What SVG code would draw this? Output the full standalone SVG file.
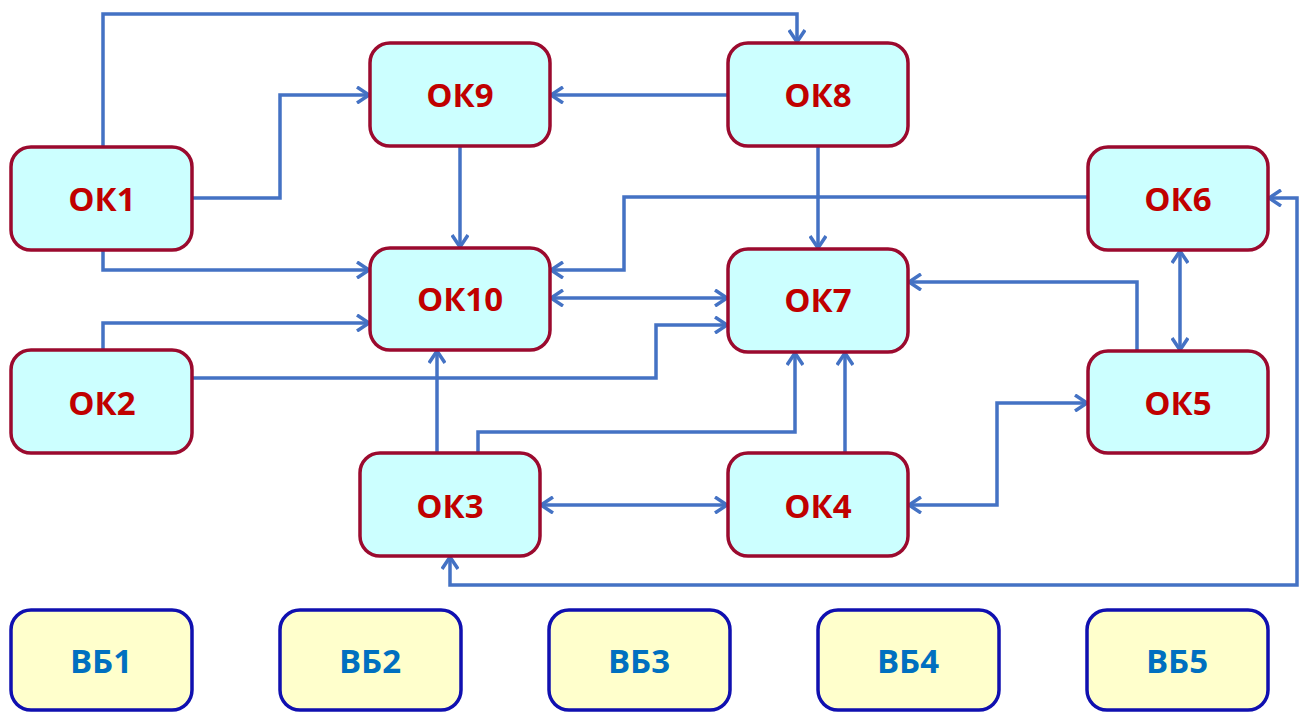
<svg xmlns="http://www.w3.org/2000/svg" width="1304" height="713" viewBox="0 0 1304 713">
<style>
.ok rect{fill:#CCFFFF;stroke:#9B0A2E;stroke-width:3.5}
.ok text{fill:#C00000;font-family:"Open Sans","Liberation Sans",sans-serif;font-weight:bold;font-size:33px;text-anchor:middle}
.vb rect{fill:#FFFFCC;stroke:#1010B0;stroke-width:3.5}
.vb text{fill:#0070C0;font-family:"Open Sans","Liberation Sans",sans-serif;font-weight:bold;font-size:33px;text-anchor:middle}
#connectors path{fill:none;stroke:#4472C4;stroke-width:3.5}
</style>
<defs>
<marker id="ah" markerUnits="userSpaceOnUse" viewBox="0 0 16 18" refX="14" refY="9" markerWidth="16" markerHeight="18" orient="auto-start-reverse">
<path d="M2,1 L14,9 L2,17" fill="none" stroke="#4472C4" stroke-width="3.5"/>
</marker>
</defs>
<rect width="1304" height="713" fill="#FFFFFF"/>
<g id="connectors">
<path d="M103,147 V14 H797 V42" marker-end="url(#ah)"/>
<path d="M192,198 H280 V95 H369" marker-end="url(#ah)"/>
<path d="M728,95 H551" marker-end="url(#ah)"/>
<path d="M460,147 V247" marker-end="url(#ah)"/>
<path d="M818,147 V248" marker-end="url(#ah)"/>
<path d="M1088,197 H624 V270 H551" marker-end="url(#ah)"/>
<path d="M103,250 V270 H369" marker-end="url(#ah)"/>
<path d="M551,298 H727" marker-start="url(#ah)" marker-end="url(#ah)"/>
<path d="M103,350 V323 H369" marker-end="url(#ah)"/>
<path d="M192,378 H656 V325 H727" marker-end="url(#ah)"/>
<path d="M437,453 V351" marker-end="url(#ah)"/>
<path d="M478,453 V432 H795 V353" marker-end="url(#ah)"/>
<path d="M845,453 V353" marker-end="url(#ah)"/>
<path d="M1137,351 V282 H909" marker-end="url(#ah)"/>
<path d="M1180,251 V350" marker-start="url(#ah)" marker-end="url(#ah)"/>
<path d="M909,505 H997 V403 H1087" marker-start="url(#ah)" marker-end="url(#ah)"/>
<path d="M541,505 H727" marker-start="url(#ah)" marker-end="url(#ah)"/>
<path d="M1269,198 H1297 V585 H450 V557" marker-start="url(#ah)" marker-end="url(#ah)"/>
</g>
<g id="OK1" class="ok"><rect x="11" y="147" width="181" height="103" rx="20"/><text x="102" y="211">ОК1</text></g>
<g id="OK2" class="ok"><rect x="11" y="350" width="181" height="103" rx="20"/><text x="102" y="415">ОК2</text></g>
<g id="OK3" class="ok"><rect x="360" y="453" width="180" height="103" rx="20"/><text x="450" y="518">ОК3</text></g>
<g id="OK4" class="ok"><rect x="728" y="453" width="180" height="103" rx="20"/><text x="818" y="518">ОК4</text></g>
<g id="OK5" class="ok"><rect x="1088" y="351" width="180" height="102" rx="20"/><text x="1178" y="415">ОК5</text></g>
<g id="OK6" class="ok"><rect x="1088" y="147" width="180" height="103" rx="20"/><text x="1178" y="211">ОК6</text></g>
<g id="OK7" class="ok"><rect x="728" y="249" width="180" height="103" rx="20"/><text x="818" y="312">ОК7</text></g>
<g id="OK8" class="ok"><rect x="728" y="43" width="180" height="103" rx="20"/><text x="818" y="107">ОК8</text></g>
<g id="OK9" class="ok"><rect x="370" y="43" width="180" height="103" rx="20"/><text x="460" y="107">ОК9</text></g>
<g id="OK10" class="ok"><rect x="370" y="248" width="180" height="102" rx="20"/><text x="460" y="311">ОК10</text></g>
<g id="VB1" class="vb"><rect x="11" y="610" width="181" height="100" rx="20"/><text x="101" y="673">ВБ1</text></g>
<g id="VB2" class="vb"><rect x="280" y="610" width="181" height="100" rx="20"/><text x="370" y="673">ВБ2</text></g>
<g id="VB3" class="vb"><rect x="549" y="610" width="181" height="100" rx="20"/><text x="639" y="673">ВБ3</text></g>
<g id="VB4" class="vb"><rect x="818" y="610" width="181" height="100" rx="20"/><text x="908" y="673">ВБ4</text></g>
<g id="VB5" class="vb"><rect x="1087" y="610" width="181" height="100" rx="20"/><text x="1177" y="673">ВБ5</text></g>
</svg>
